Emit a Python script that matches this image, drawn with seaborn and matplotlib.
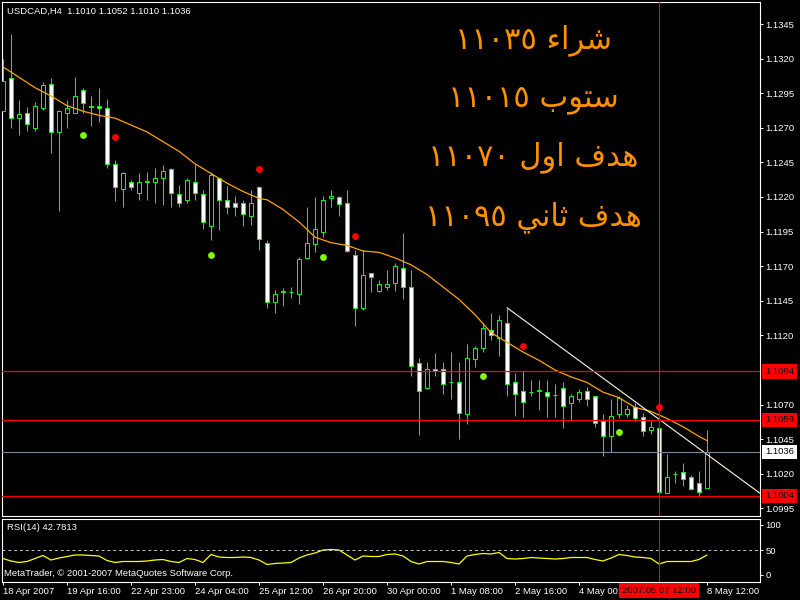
import matplotlib
matplotlib.use("Agg")
import matplotlib.pyplot as plt
import matplotlib.transforms as mtransforms
import numpy as np
import seaborn as sns

# USDCAD H4, 18 Apr 2007 - 8 May 2007
opens = [1.1282, 1.1306, 1.1277, 1.1281, 1.1270, 1.1284, 1.1302, 1.1267, 1.1281, 1.1281,
         1.1297, 1.1286, 1.1286, 1.1284, 1.1244, 1.1226, 1.1231, 1.1223, 1.1231, 1.1231,
         1.1234, 1.1240, 1.1222, 1.1218, 1.1231, 1.1222, 1.1199, 1.1234, 1.1218, 1.1216,
         1.1216, 1.1206, 1.1227, 1.1187, 1.1144, 1.1151, 1.1151, 1.1150, 1.1176, 1.1186,
         1.1195, 1.1219, 1.1220, 1.1216, 1.1178, 1.1140, 1.1165, 1.1152, 1.1155, 1.1158,
         1.1169, 1.1155, 1.1100, 1.1082, 1.1096, 1.1096, 1.1086, 1.1086, 1.1063, 1.1103,
         1.1111, 1.1124, 1.1118, 1.1129, 1.1086, 1.1080, 1.1079, 1.1080, 1.1079, 1.1077,
         1.1082, 1.1071, 1.1074, 1.1080, 1.1076, 1.1058, 1.1047, 1.1063, 1.1063, 1.1068,
         1.1061, 1.1052, 1.1053, 1.1006, 1.1020, 1.1021, 1.1018, 1.1013, 1.1010]
highs = [1.1320, 1.1338, 1.1290, 1.1285, 1.1289, 1.1303, 1.1306, 1.1283, 1.1290, 1.1307,
         1.1299, 1.1293, 1.1299, 1.1291, 1.1247, 1.1238, 1.1232, 1.1237, 1.1238, 1.1241,
         1.1243, 1.1241, 1.1229, 1.1234, 1.1244, 1.1225, 1.1238, 1.1234, 1.1228, 1.1221,
         1.1218, 1.1225, 1.1228, 1.1189, 1.1153, 1.1154, 1.1155, 1.1177, 1.1213, 1.1220,
         1.1221, 1.1225, 1.1221, 1.1225, 1.1182, 1.1182, 1.1165, 1.1160, 1.1167, 1.1172,
         1.1194, 1.1167, 1.1104, 1.1101, 1.1107, 1.1101, 1.1108, 1.1101, 1.1114, 1.1112,
         1.1129, 1.1136, 1.1135, 1.1140, 1.1093, 1.1094, 1.1088, 1.1088, 1.1088, 1.1085,
         1.1086, 1.1078, 1.1081, 1.1083, 1.1076, 1.1063, 1.1074, 1.1076, 1.1070, 1.1071,
         1.1064, 1.1058, 1.1053, 1.1034, 1.1022, 1.1028, 1.1019, 1.1022, 1.1052]
lows = [1.1282, 1.1270, 1.1265, 1.1268, 1.1268, 1.1283, 1.1252, 1.1210, 1.1270, 1.1281,
        1.1281, 1.1271, 1.1274, 1.1241, 1.1217, 1.1213, 1.1225, 1.1218, 1.1218, 1.1216,
        1.1214, 1.1213, 1.1213, 1.1216, 1.1218, 1.1197, 1.1189, 1.1196, 1.1208, 1.1206,
        1.1199, 1.1200, 1.1182, 1.1140, 1.1136, 1.1141, 1.1147, 1.1143, 1.1175, 1.1180,
        1.1191, 1.1213, 1.1206, 1.1180, 1.1127, 1.1138, 1.1151, 1.1151, 1.1153, 1.1152,
        1.1146, 1.1091, 1.1048, 1.1081, 1.1091, 1.1078, 1.1074, 1.1045, 1.1056, 1.1097,
        1.1108, 1.1117, 1.1105, 1.1076, 1.1062, 1.1061, 1.1076, 1.1066, 1.1061, 1.1061,
        1.1053, 1.1059, 1.1072, 1.1069, 1.1054, 1.1033, 1.1036, 1.1060, 1.1061, 1.1058,
        1.1047, 1.1049, 1.1006, 1.1006, 1.1013, 1.1011, 1.1008, 1.1003, 1.1010]
closes = [1.1304, 1.1277, 1.1280, 1.1273, 1.1286, 1.1301, 1.1267, 1.1282, 1.1284, 1.1293,
          1.1288, 1.1285, 1.1284, 1.1244, 1.1227, 1.1237, 1.1227, 1.1231, 1.1231, 1.1234,
          1.1239, 1.1223, 1.1216, 1.1232, 1.1223, 1.1202, 1.1236, 1.1218, 1.1213, 1.1213,
          1.1208, 1.1216, 1.1190, 1.1144, 1.1150, 1.1152, 1.1151, 1.1175, 1.1187, 1.1197,
          1.1218, 1.1221, 1.1215, 1.1181, 1.1140, 1.1164, 1.1162, 1.1157, 1.1157, 1.1170,
          1.1155, 1.1098, 1.1080, 1.1096, 1.1094, 1.1085, 1.1086, 1.1064, 1.1104, 1.1111,
          1.1125, 1.1120, 1.1131, 1.1085, 1.1078, 1.1072, 1.1079, 1.1080, 1.1076, 1.1077,
          1.1069, 1.1076, 1.1079, 1.1074, 1.1057, 1.1047, 1.1062, 1.1075, 1.1067, 1.1060,
          1.1051, 1.1054, 1.1007, 1.1018, 1.1020, 1.1016, 1.1009, 1.1007, 1.1036]

# moving average (orange)
ma_bars = [0, 4, 6, 8, 10, 12, 14, 16, 18, 20, 22, 24, 26, 28, 30, 32, 33, 35, 37, 39,
           41, 43, 45, 47, 49, 51, 53, 55, 57, 59, 61, 63, 65, 67, 69, 71, 73, 75, 77, 79,
           81, 83, 85, 87, 88]
ma_values = [1.1314, 1.1299, 1.1293, 1.1286, 1.1282, 1.1279, 1.1277, 1.1272, 1.1267, 1.1260,
             1.1253, 1.1244, 1.1237, 1.1230, 1.1224, 1.1219, 1.1218, 1.1211, 1.1202, 1.1191,
             1.1187, 1.1185, 1.1181, 1.1180, 1.1176, 1.1171, 1.1164, 1.1155, 1.1146, 1.1135,
             1.1122, 1.1115, 1.1108, 1.1102, 1.1095, 1.1090, 1.1086, 1.1079, 1.1075, 1.1068,
             1.1065, 1.1060, 1.1054, 1.1047, 1.1044]

rsi_values = [33, 28, 25, 27, 33, 39, 30, 34, 37, 40, 40, 39, 38, 29, 25, 27, 27, 27, 28, 30,
              31, 27, 25, 33, 31, 25, 41, 36, 35, 35, 36, 35, 30, 21, 23, 24, 25, 34, 40, 44,
              50, 51, 50, 40, 30, 38, 37, 37, 41, 42, 38, 27, 22, 27, 27, 27, 25, 22, 38, 41,
              43, 42, 45, 33, 32, 33, 35, 34, 33, 32, 33, 35, 35, 35, 31, 28, 34, 41, 39, 36,
              35, 33, 22, 27, 27, 27, 27, 31, 40]

fractal_up_bars = [14, 32, 44, 65, 82]
fractal_up_prices = [1.1263, 1.1240, 1.1192, 1.1112, 1.1068]
fractal_down_bars = [10, 26, 40, 60, 77]
fractal_down_prices = [1.1265, 1.1178, 1.1177, 1.1091, 1.1050]

trend_bars = [63, 88]
trend_prices = [1.1140, 1.1034]

red_levels = [1.1094, 1.1059, 1.1004]
bid_price = 1.1036
price_ticks = [1.0995, 1.1020, 1.1045, 1.1070, 1.1120, 1.1145, 1.1170, 1.1195,
               1.1220, 1.1245, 1.1270, 1.1295, 1.1320, 1.1345]
time_tick_bars = [0, 8, 16, 24, 32, 40, 48, 56, 64, 72, 80, 88]
time_tick_labels = ["18 Apr 2007", "19 Apr 16:00", "22 Apr 23:00", "24 Apr 04:00",
                    "25 Apr 12:00", "26 Apr 20:00", "30 Apr 00:00", "1 May 08:00",
                    "2 May 16:00", "4 May 00:00", "", "8 May 12:00"]
cursor_bar = 82
cursor_label = "2007.05.07 12:00"

# trade notes (Arabic, shaped by hand into presentation forms, visual order)
notes = [
    "\u0661\u0661\u0660\u0663\u0665 \uFE80\uFE8D\uFEAE\uFEB7",                      # شراء ١١٠٣٥
    "\u0661\u0661\u0660\u0661\u0665 \uFE8F\uFEEE\uFE98\uFEB3",                      # ستوب ١١٠١٥
    "\u0661\u0661\u0660\u0667\u0660 \uFEDD\uFEED\uFE8D \uFED1\uFEAA\uFEEB",         # هدف اول ١١٠٧٠
    "\u0661\u0661\u0660\u0669\u0665 \uFEF2\uFEE7\uFE8E\uFE9B \uFED1\uFEAA\uFEEB",   # هدف ثاني ١١٠٩٥
]
note_baselines = [48, 106, 165, 225]

sns.set_theme(style="dark", rc={"axes.facecolor": "black", "figure.facecolor": "black",
                                "axes.grid": False})
plt.rcParams["font.family"] = ["Liberation Sans", "DejaVu Sans"]

W, H = 800, 600
fig = plt.figure(figsize=(8, 6), dpi=100)
ax = fig.add_axes([2 / W, 1 - 516 / H, 758 / W, 514 / H])
rsi = fig.add_axes([2 / W, 1 - 582 / H, 758 / W, 63 / H])

GREEN = "#00FF00"
fs = 6.8
n = len(opens)
x = np.arange(n)
o, h, l, c = map(np.array, (opens, highs, lows, closes))

# candles
ax.vlines(x, l, h, color=GREEN, linewidth=0.75, zorder=2)
bear = c < o
body_bottom = np.minimum(o, c)
body_height = np.maximum(np.abs(c - o), 0.00002)
ax.bar(x, body_height, bottom=body_bottom, width=0.6,
       color=np.where(bear, "white", "black"), edgecolor=GREEN, linewidth=0.75, zorder=3)

sns.lineplot(x=ma_bars, y=ma_values, ax=ax, color="#FFA500", linewidth=0.9, zorder=4)

xmin, xmax = -0.125, 94.625
slope = (trend_prices[1] - trend_prices[0]) / (trend_bars[1] - trend_bars[0])
ax.plot([trend_bars[0], xmax], [trend_prices[0], trend_prices[0] + slope * (xmax - trend_bars[0])],
        color="#FFF8DC", linewidth=0.8, zorder=4)

sns.scatterplot(x=fractal_up_bars, y=fractal_up_prices, ax=ax, color="#FF0000",
                s=24, linewidth=0, zorder=5)
sns.scatterplot(x=fractal_down_bars, y=fractal_down_prices, ax=ax, color="#7FFF00",
                s=24, linewidth=0, zorder=5)

for lvl in red_levels:
    ax.axhline(lvl, color="#FF0000", linewidth=0.9, zorder=4)
ax.axhline(bid_price, color="#778899", linewidth=0.8, zorder=4)
ax.axvline(cursor_bar, color="#FF0000", linewidth=0.8, zorder=4)

ax.set_xlim(xmin, xmax)
ax.set_ylim(1.09895, 1.13609)
ax.set_xticks([])
ax.yaxis.tick_right()
ax.set_yticks(price_ticks)
ax.set_yticklabels([f"{p:.4f}" for p in price_ticks])
ax.tick_params(axis="y", direction="out", length=2.2, width=0.7, color="white",
               labelcolor="white", labelsize=fs, pad=1.6, right=True, left=False)

trans = mtransforms.blended_transform_factory(ax.transAxes, ax.transData)
for lvl in red_levels:
    ax.text(1.0066, lvl, f"{lvl:.4f}", transform=trans, ha="left", va="center",
            fontsize=fs, color="black", clip_on=False, zorder=6,
            bbox=dict(boxstyle="square,pad=0.28", facecolor="#FF0000", edgecolor="none"))
ax.text(1.0066, bid_price, f"{bid_price:.4f}", transform=trans, ha="left", va="center",
        fontsize=fs, color="black", clip_on=False, zorder=6,
        bbox=dict(boxstyle="square,pad=0.28", facecolor="white", edgecolor="none"))

for s, yb in zip(notes, note_baselines):
    fig.text(533 / W, 1 - yb / H, s, ha="center", va="baseline", fontsize=22,
             color="#FF9000", family=["DejaVu Sans"])

# RSI pane
sns.lineplot(x=x, y=rsi_values, ax=rsi, color="#FFFF00", linewidth=0.9)
rsi.axhline(50, color="#C8C8C8", linewidth=0.7, linestyle=(0, (3, 3)))
rsi.axvline(cursor_bar, color="#FF0000", linewidth=0.8)
rsi.set_xlim(xmin, xmax)
rsi.set_ylim(-14, 112)
rsi.yaxis.tick_right()
rsi.set_yticks([0, 50, 100])
rsi.set_yticklabels(["0", "50", "100"])
rsi.tick_params(axis="y", direction="out", length=2.2, width=0.7, color="white",
                labelcolor="white", labelsize=fs, pad=1.6, right=True, left=False)
rsi.set_xticks(time_tick_bars)
rsi.set_xticklabels(time_tick_labels, ha="left")
rsi.tick_params(axis="x", direction="out", length=2.2, width=0.7, color="white",
                labelcolor="white", labelsize=fs, pad=1.6, bottom=True)
rsi.set_xlabel("")
rsi.set_ylabel("")
ax.set_xlabel("")
ax.set_ylabel("")

ctrans = mtransforms.blended_transform_factory(rsi.transData, rsi.transAxes)
rsi.text(cursor_bar, -0.14, cursor_label, transform=ctrans, ha="center", va="center",
         fontsize=fs, color="black", clip_on=False, zorder=10,
         bbox=dict(boxstyle="square,pad=0.3", facecolor="#FF0000", edgecolor="none"))

for a in (ax, rsi):
    for sp in a.spines.values():
        sp.set_visible(True)
        sp.set_color("white")
        sp.set_linewidth(0.8)

fig.text(7 / W, 1 - 11 / H, "USDCAD,H4  1.1010 1.1052 1.1010 1.1036", color="white",
         fontsize=fs, va="center", ha="left")
fig.text(7 / W, 1 - 528 / H, "RSI(14) 42.7813", color="white", fontsize=fs,
         va="center", ha="left")
fig.text(4 / W, 1 - 574 / H, "MetaTrader, \u00a9 2001-2007 MetaQuotes Software Corp.",
         color="white", fontsize=fs, va="center", ha="left")

fig.savefig("out.png", dpi=100, facecolor="black")
